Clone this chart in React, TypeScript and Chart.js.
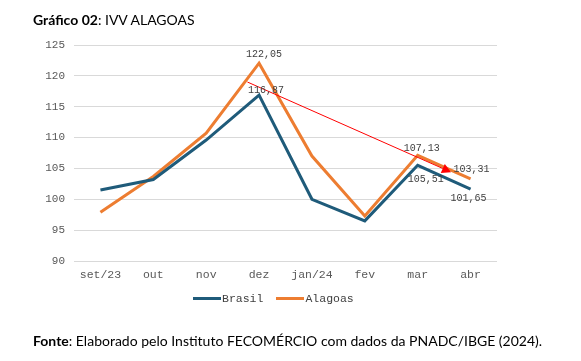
import React, { useEffect, useRef } from "react";
import { Chart, registerables } from "chart.js";

Chart.register(...registerables);

const categories = ["set/23", "out", "nov", "dez", "jan/24", "fev", "mar", "abr"];
const brasil = [101.5, 103.2, 109.6, 116.87, 100.0, 96.5, 105.51, 101.65];
const alagoas = [97.9, 103.7, 110.7, 122.05, 107.0, 97.3, 107.13, 103.31];
const yMin = 90;
const yMax = 125;
const yStep = 5;
// indices of points carrying a value label
const brasilLabelIdx = [3, 6, 7];
const alagoasLabelIdx = [3, 6, 7];
// red trend arrow, in data space: [category index, value]
const arrowFrom = [2.78, 119.0];
const arrowTo = [6.63, 104.4];

const BLUE = "#1f5b7a";
const ORANGE = "#ed7d31";
const MONO = "'Liberation Mono', 'DejaVu Sans Mono', monospace";

// label pixel offsets (style)
const labelOffsets: Record<string, [number, number][]> = {
  Brasil: [[7, -5], [8, 14], [-2, 9]],
  Alagoas: [[5, -9], [4, -7], [1, -9]],
};

const fmt = (v: number) => v.toFixed(2).replace(".", ",");

const labelPlugin = {
  id: "valueLabels",
  afterDatasetsDraw(chart: any) {
    const ctx = chart.ctx;
    const x = chart.scales.x;
    const y = chart.scales.y;
    // arrow
    const x1 = x.getPixelForValue(arrowFrom[0]);
    const y1 = y.getPixelForValue(arrowFrom[1]);
    const x2 = x.getPixelForValue(arrowTo[0]);
    const y2 = y.getPixelForValue(arrowTo[1]);
    const ang = Math.atan2(y2 - y1, x2 - x1);
    const headLen = 9;
    const headW = 5;
    const bx = x2 - headLen * Math.cos(ang);
    const by = y2 - headLen * Math.sin(ang);
    ctx.save();
    ctx.strokeStyle = "#ff0000";
    ctx.fillStyle = "#ff0000";
    ctx.lineWidth = 1;
    ctx.beginPath();
    ctx.moveTo(x1, y1);
    ctx.lineTo(bx, by);
    ctx.stroke();
    ctx.beginPath();
    ctx.moveTo(x2, y2);
    ctx.lineTo(bx + headW * Math.sin(ang), by - headW * Math.cos(ang));
    ctx.lineTo(bx - headW * Math.sin(ang), by + headW * Math.cos(ang));
    ctx.closePath();
    ctx.fill();
    ctx.restore();

    ctx.save();
    ctx.font = `10px ${MONO}`;
    ctx.fillStyle = "#404040";
    ctx.textAlign = "center";
    ctx.textBaseline = "middle";
    const sets: [string, number[], number[]][] = [
      ["Brasil", brasil, brasilLabelIdx],
      ["Alagoas", alagoas, alagoasLabelIdx],
    ];
    sets.forEach(([name, vals, idx]) => {
      idx.forEach((i, k) => {
        const px = x.getPixelForValue(i);
        const py = y.getPixelForValue(vals[i]);
        const [dx, dy] = labelOffsets[name][k];
        ctx.fillText(fmt(vals[i]), px + dx, py + dy);
      });
    });
    ctx.restore();
  },
};

export default function App() {
  const ref = useRef<HTMLCanvasElement>(null);
  useEffect(() => {
    const chart = new Chart(ref.current!, {
      type: "line",
      data: {
        labels: categories,
        datasets: [
          {
            label: "Brasil",
            data: brasil,
            borderColor: BLUE,
            backgroundColor: BLUE,
            borderWidth: 3,
            pointRadius: 0,
            tension: 0,
          },
          {
            label: "Alagoas",
            data: alagoas,
            borderColor: ORANGE,
            backgroundColor: ORANGE,
            borderWidth: 3,
            pointRadius: 0,
            tension: 0,
          },
        ],
      },
      options: {
        animation: false,
        responsive: false,
        maintainAspectRatio: false,
        layout: { padding: { top: 45, left: 0, right: 84, bottom: 75 } },
        plugins: {
          legend: { display: false },
          tooltip: { enabled: false },
        },
        scales: {
          x: {
            offset: true,
            grid: { display: false, drawTicks: false },
            border: { display: false },
            ticks: {
              color: "#595959",
              font: { family: MONO, size: 11.5 },
              padding: 7,
              maxRotation: 0,
              autoSkip: false,
            },
            afterFit: (s: any) => {
              s.height = 25;
            },
          },
          y: {
            min: yMin,
            max: yMax,
            ticks: {
              stepSize: yStep,
              color: "#595959",
              font: { family: MONO, size: 11 },
              padding: 9,
            },
            grid: { color: "#d9d9d9", drawTicks: false, lineWidth: 1 },
            border: { display: false },
            afterFit: (s: any) => {
              s.width = 74;
            },
          },
        },
      },
      plugins: [labelPlugin],
    });
    return () => chart.destroy();
  }, []);

  const legendItem = (color: string, text: string) => (
    <div style={{ display: "flex", alignItems: "center" }}>
      <span style={{ display: "inline-block", width: 28, height: 3, background: color, marginRight: 1 }} />
      <span style={{ fontFamily: MONO, fontSize: 11.5, color: "#404040" }}>{text}</span>
    </div>
  );

  return (
    <div style={{ position: "absolute", left: 0, top: 0, width: 581, height: 361, background: "#fff" }}>
      <canvas ref={ref} width={581} height={361} style={{ position: "absolute", left: 0, top: 0 }} />
      <div
        style={{
          position: "absolute",
          left: 33,
          top: 11,
          fontFamily: "Lato, 'Open Sans', sans-serif",
          fontSize: 14,
          color: "#000",
          whiteSpace: "nowrap",
        }}
      >
        <b>Gráfico 02</b>: IVV ALAGOAS
      </div>
      <div
        style={{
          position: "absolute",
          left: 193,
          top: 292,
          display: "flex",
          gap: 13,
        }}
      >
        {legendItem(BLUE, "Brasil")}
        {legendItem(ORANGE, "Alagoas")}
      </div>
      <div
        style={{
          position: "absolute",
          left: 33,
          top: 332,
          fontFamily: "Lato, 'Open Sans', sans-serif",
          fontSize: 14,
          color: "#000",
          whiteSpace: "nowrap",
        }}
      >
        <b>Fonte</b>: Elaborado pelo Instituto FECOMÉRCIO com dados da PNADC/IBGE (2024).
      </div>
    </div>
  );
}
